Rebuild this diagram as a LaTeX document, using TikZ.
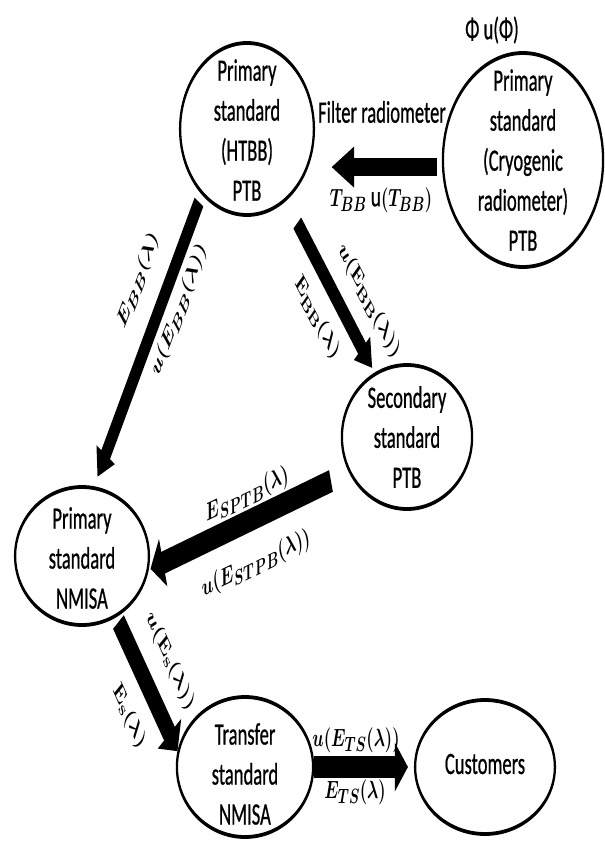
\documentclass[tikz,border=0pt]{standalone}
\usepackage[no-math]{fontspec}
\setmainfont{Carlito}
\newfontfamily\midfont[FakeBold=0.9]{Carlito}
\usepackage{graphicx}
\usetikzlibrary{shapes.geometric,arrows.meta}
\tikzset{
 ell/.style={draw, ellipse, line width=3.8pt, inner sep=0pt},
 txt/.style={align=center, inner sep=0pt, font=\fontsize{31}{40}\selectfont\midfont},
 lab/.style={inner sep=0pt, font=\fontsize{29}{34}\selectfont\boldmath},
 thinarrow/.style={line width=17pt, -{Triangle[length=26pt,width=34pt]}},
 fatarrow/.style={line width=22.5pt, -{Triangle[length=22pt,width=48pt]}},
 filterarrow/.style={line width=18pt, -{Triangle[length=38pt,width=38pt]}},
}
\newcommand\mx[1]{\scalebox{1.12}[1]{#1}}
\begin{document}
\begin{tikzpicture}[x=1pt,y=-1pt]
\path[use as bounding box, fill=white] (0,0) rectangle (605,841);
\begin{scope}[x=1.666667pt, transform canvas={xscale=0.6}]
% circles
\node[ell, minimum width=223pt, minimum height=172pt] (htbb) at (247,129) {};
\node[txt] (htbb-t) at ([yshift=-1pt]htbb.center) {Primary\\standard\\(HTBB)\\PTB};
\node[ell, minimum width=267pt, minimum height=214pt] (cryo) at (523,160) {};
\node[txt] (cryo-t) at (cryo.center) {Primary\\standard\\(Cryogenic\\radiometer)\\PTB};
\node[ell, minimum width=217pt, minimum height=144pt] (sec) at (407,437) {};
\node[txt] (sec-t) at (sec.center) {Secondary\\standard\\PTB};
\node[ell, minimum width=223pt, minimum height=138pt] (nmisa) at (82,556) {};
\node[txt] (nmisa-t) at ([yshift=-2pt]nmisa.center) {Primary\\standard\\NMISA};
\node[ell, minimum width=227pt, minimum height=140pt] (trans) at (245,767) {};
\node[txt] (trans-t) at ([yshift=-7pt]trans.center) {Transfer\\standard\\NMISA};
\node[ell, minimum width=233pt, minimum height=134pt] (cust) at (485,767) {};
\node[txt] (cust-t) at ([yshift=3pt]cust.center) {Customers};
% arrows
\draw[filterarrow, shorten <=8pt, shorten >=27pt] (cryo.183) -- (htbb.east |- cryo.183);
\draw[thinarrow, shorten <=8.8pt, shorten >=11pt] (htbb.221) -- (nmisa.74);
\draw[thinarrow, shorten <=29pt, shorten >=6pt] (htbb.312) -- (sec.130);
\draw[fatarrow, shorten <=31pt, shorten >=3pt] (sec.200) -- (nmisa.353);
\draw[fatarrow, shorten <=6pt] (nmisa.313) -- (trans.172);
\draw[fatarrow, shorten >=10pt] (trans.east) -- (cust.west);
% labels
\node[txt] (phi) at (492,30) {Φ u(Φ)};
\node[txt] (filt) at (382,112) {Filter radiometer};
\node[lab] (tbb) at (381,200) {\mx{$T_{BB}$ \unboldmath\midfont u\boldmath$(T_{BB})$}};
\node[lab, rotate=58.3] (la1) at (138,280) {\mx{$E_{BB}(\lambda)$}};
\node[lab, rotate=58.3] (la2) at (179,310) {\mx{$u(E_{BB}(\lambda))$}};
\node[lab, rotate=-49.3] (lb1) at (369,301) {\mx{$u(\mathrm{E}_{\mathrm{BB}}(\lambda))$}};
\node[lab, rotate=-49.3] (lb2) at (317,318) {\mx{$\mathrm{E}_{\mathrm{BB}}(\lambda)$}};
\node[lab, rotate=16.2] (lc1) at (247,495) {\mx{$E_{SPTB}(\lambda)$}};
\node[lab, rotate=16.2] (lc2) at (256,564) {\mx{$u(E_{STPB}(\lambda))$}};
\node[lab, rotate=-53.3] (ld1) at (170,661) {\mx{$u(\mathrm{E}_{\mathrm{s}}(\lambda))$}};
\node[lab, rotate=-53.3] (ld2) at (129,717) {\mx{$\mathrm{E}_{\mathrm{s}}(\lambda)$}};
\node[lab] (le1) at (356,740) {\mx{$u(E_{TS}(\lambda))$}};
\node[lab] (le2) at (355,792) {\mx{$E_{TS}(\lambda)$}};
\end{scope}
\end{tikzpicture}
\end{document}
